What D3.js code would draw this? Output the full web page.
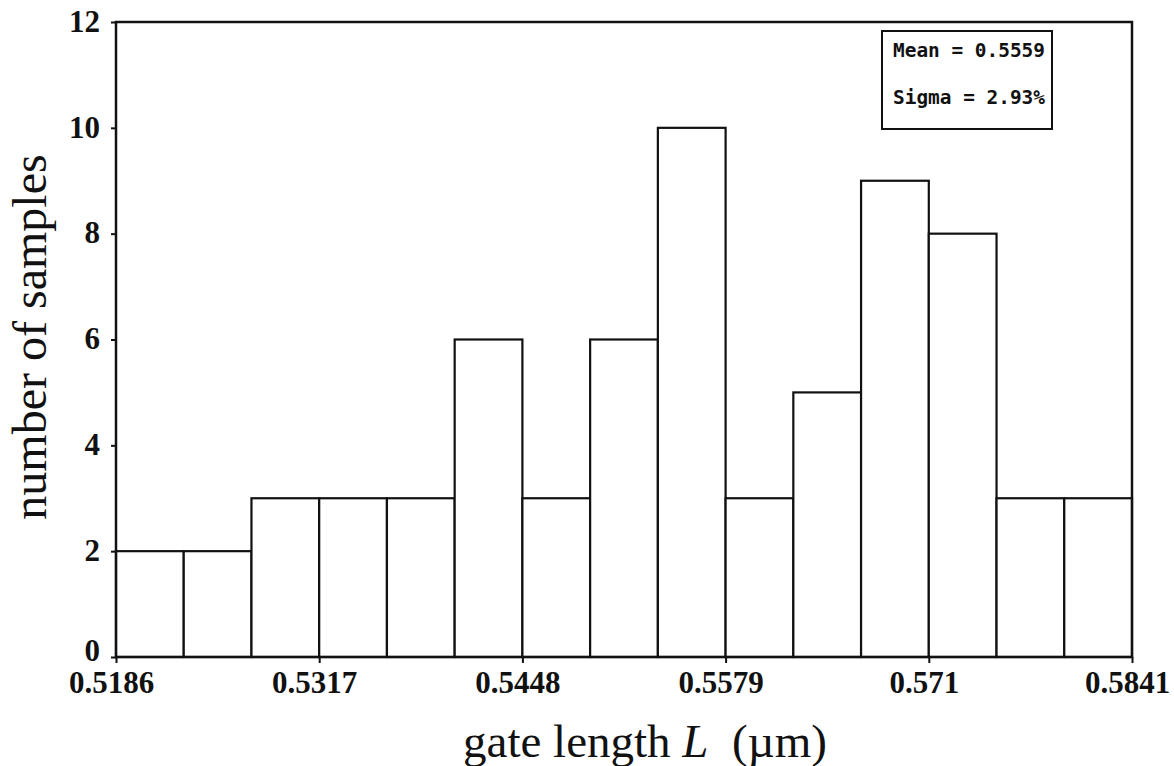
<!DOCTYPE html>
<html>
<head>
<meta charset="utf-8">
<script src="https://cdn.jsdelivr.net/npm/d3@7"></script>
<style>
  html, body { margin: 0; padding: 0; background: #fff; }
  svg { display: block; }
</style>
</head>
<body>
<svg id="chart" width="1174" height="766"></svg>
<script>
// Histogram of gate length measurements
const binCounts = [2, 2, 3, 3, 3, 6, 3, 6, 10, 3, 5, 9, 8, 3, 3];
const xTickValues = [0.5186, 0.5317, 0.5448, 0.5579, 0.5710, 0.5841];
const xTickLabels = ["0.5186", "0.5317", "0.5448", "0.5579", "0.571", "0.5841"];
const yTickValues = [0, 2, 4, 6, 8, 10, 12];
const statLines = ["Mean = 0.5559", "Sigma = 2.93%"];

const xMin = xTickValues[0];
const xMax = xTickValues[xTickValues.length - 1];
const binWidth = (xMax - xMin) / binCounts.length;
const bins = binCounts.map((count, i) => ({
  x0: xMin + i * binWidth,
  x1: xMin + (i + 1) * binWidth,
  count
}));

const margin = { left: 116, right: 42, top: 22, bottom: 109 };
const W = 1174, H = 766;
const svg = d3.select("#chart");
const serif = "'Liberation Serif', 'Times New Roman', serif";

const x = d3.scaleLinear().domain([xMin, xMax]).range([margin.left, W - margin.right]);
const y = d3.scaleLinear().domain([0, 12]).range([H - margin.bottom, margin.top]);

// Bars
svg.append("g")
  .selectAll("rect")
  .data(bins)
  .join("rect")
  .attr("x", d => x(d.x0))
  .attr("y", d => y(d.count))
  .attr("width", d => x(d.x1) - x(d.x0))
  .attr("height", d => y(0) - y(d.count))
  .attr("fill", "#fff")
  .attr("stroke", "#111")
  .attr("stroke-width", 2.2);

// Plot frame
svg.append("rect")
  .attr("x", x(xMin))
  .attr("y", y(12))
  .attr("width", x(xMax) - x(xMin))
  .attr("height", y(0) - y(12))
  .attr("fill", "none")
  .attr("stroke", "#111")
  .attr("stroke-width", 2.5);

// Y axis
const yAxis = d3.axisLeft(y)
  .tickValues(yTickValues)
  .tickSize(5)
  .tickPadding(11)
  .tickFormat(d3.format("d"));
const gy = svg.append("g")
  .attr("transform", `translate(${x(xMin)},0)`)
  .call(yAxis);
gy.select(".domain").remove();
gy.selectAll(".tick line").attr("stroke", "#111").attr("stroke-width", 2);
gy.selectAll(".tick text")
  .attr("fill", "#111")
  .style("font-family", serif)
  .style("font-weight", "bold")
  .style("font-size", "31px")
  .attr("dy", d => d === 0 ? "0.12em" : "0.3em");

// X axis
const xAxis = d3.axisBottom(x)
  .tickValues(xTickValues)
  .tickSize(6)
  .tickPadding(7)
  .tickFormat((d, i) => xTickLabels[i]);
const gx = svg.append("g")
  .attr("transform", `translate(0,${y(0)})`)
  .call(xAxis);
gx.select(".domain").remove();
gx.selectAll(".tick line").attr("stroke", "#111").attr("stroke-width", 2);
gx.selectAll(".tick text")
  .attr("fill", "#111")
  .attr("dx", -5)
  .attr("dy", "0.74em")
  .style("font-family", serif)
  .style("font-weight", "bold")
  .style("font-size", "31px");

// Axis titles
svg.append("text")
  .attr("transform", `translate(46,337) rotate(-90)`)
  .attr("text-anchor", "middle")
  .style("font-family", serif)
  .style("font-size", "48px")
  .attr("fill", "#111")
  .text("number of samples");

const xTitle = svg.append("text")
  .attr("x", 645)
  .attr("y", 757)
  .attr("text-anchor", "middle")
  .style("font-family", serif)
  .style("font-size", "47px")
  .attr("fill", "#111");
xTitle.append("tspan").text("gate length ");
xTitle.append("tspan").style("font-style", "italic").text("L");
xTitle.append("tspan").text("\u00a0 (\u00b5m)");

// Statistics box
const box = svg.append("g");
box.append("rect")
  .attr("x", 882)
  .attr("y", 31)
  .attr("width", 170)
  .attr("height", 98)
  .attr("fill", "#fff")
  .attr("stroke", "#111")
  .attr("stroke-width", 2);
box.selectAll("text")
  .data(statLines)
  .join("text")
  .attr("x", 893)
  .attr("y", (d, i) => 57 + i * 47)
  .attr("textLength", 152)
  .attr("lengthAdjust", "spacingAndGlyphs")
  .style("font-family", "'DejaVu Sans Mono', 'Liberation Mono', monospace")
  .style("font-weight", "bold")
  .style("font-size", "20px")
  .attr("fill", "#111")
  .text(d => d);
</script>
</body>
</html>
